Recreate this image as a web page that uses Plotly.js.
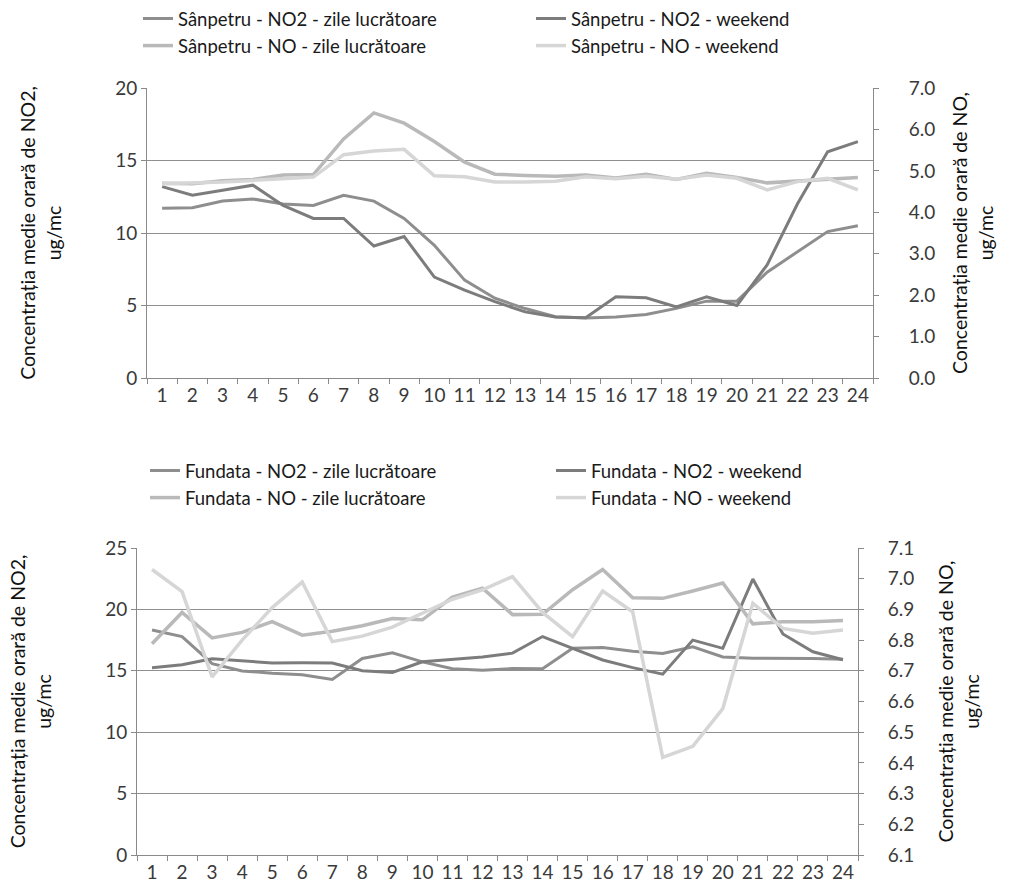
<!DOCTYPE html>
<html>
<head>
<meta charset="utf-8">
<script src="https://cdn.plot.ly/plotly-3.0.1.min.js"></script>
<style>
html,body{margin:0;padding:0;background:#ffffff;}
#chart{width:1009px;height:895px;}
</style>
</head>
<body>
<div id="chart"></div>
<script>
// Hours of the day (categories)
const hours = ["1","2","3","4","5","6","7","8","9","10","11","12","13","14","15","16","17","18","19","20","21","22","23","24"];

// Sânpetru (left axis NO2, right axis NO)
const sanNO2Zile    = [11.7,11.75,12.2,12.35,12.0,11.9,12.6,12.2,11.0,9.15,6.75,5.5,4.79,4.23,4.14,4.2,4.38,4.8,5.3,5.3,7.3,8.7,10.1,10.5];
const sanNO2Weekend = [13.2,12.6,12.95,13.3,11.9,11.0,11.0,9.1,9.76,6.96,6.06,5.27,4.56,4.2,4.15,5.6,5.53,4.9,5.6,5.0,7.8,12.0,15.6,16.3];
const sanNOZile     = [4.70,4.69,4.76,4.79,4.90,4.91,5.77,6.40,6.15,5.71,5.21,4.92,4.89,4.87,4.90,4.83,4.92,4.79,4.94,4.84,4.71,4.75,4.79,4.84];
const sanNOWeekend  = [4.69,4.70,4.73,4.77,4.82,4.85,5.39,5.48,5.52,4.88,4.86,4.73,4.73,4.75,4.86,4.81,4.87,4.80,4.90,4.82,4.54,4.74,4.82,4.54];

// Fundata (left axis NO2, right axis NO)
const funNO2Zile    = [18.32,17.79,15.58,14.99,14.8,14.68,14.3,16.0,16.46,15.73,15.17,15.05,15.18,15.17,16.83,16.9,16.6,16.41,16.95,16.13,16.02,16.04,16.0,15.95];
const funNO2Weekend = [15.24,15.49,15.98,15.83,15.64,15.66,15.63,15.0,14.86,15.73,15.95,16.12,16.44,17.79,16.83,15.88,15.26,14.73,17.5,16.83,22.47,18.0,16.55,15.9];
const funNOZile     = [6.788,6.89,6.807,6.825,6.86,6.816,6.829,6.847,6.87,6.866,6.94,6.969,6.883,6.884,6.964,7.03,6.938,6.936,6.96,6.986,6.853,6.86,6.86,6.864];
const funNOWeekend  = [7.03,6.958,6.68,6.80,6.906,6.989,6.795,6.813,6.842,6.888,6.933,6.964,7.007,6.89,6.811,6.96,6.892,6.418,6.454,6.577,6.92,6.838,6.822,6.833];

// Series names
const namesSan = ["Sânpetru - NO2 - zile lucrătoare","Sânpetru - NO2 - weekend","Sânpetru - NO - zile lucrătoare","Sânpetru - NO - weekend"];
const namesFun = ["Fundata - NO2 - zile lucrătoare","Fundata - NO2 - weekend","Fundata - NO - zile lucrătoare","Fundata - NO - weekend"];
const leftTitle = "Concentrația medie orară de NO2,<br>ug/mc";
const rightTitle = "Concentrația medie orară de NO,<br>ug/mc";

const colNO2Zile = "#8e8e8e", colNO2Week = "#7c7c7c", colNOZile = "#b9b9b9", colNOWeek = "#d6d6d6";
const FONT = "Lato, 'Open Sans', sans-serif";

function tr(y, name, color, width, xa, ya, lg) {
  return {x: hours, y: y, name: name, type: "scatter", mode: "lines",
          line: {color: color, width: width}, xaxis: xa, yaxis: ya, legend: lg};
}

const data = [
  tr(sanNO2Zile, namesSan[0], colNO2Zile, 3, "x", "y", "legend"),
  tr(sanNO2Weekend, namesSan[1], colNO2Week, 3, "x", "y", "legend"),
  tr(sanNOZile, namesSan[2], colNOZile, 3.5, "x", "y2", "legend"),
  tr(sanNOWeekend, namesSan[3], colNOWeek, 3.5, "x", "y2", "legend"),
  tr(funNO2Zile, namesFun[0], colNO2Zile, 3, "x2", "y3", "legend2"),
  tr(funNO2Weekend, namesFun[1], colNO2Week, 3, "x2", "y3", "legend2"),
  tr(funNOZile, namesFun[2], colNOZile, 3.5, "x2", "y4", "legend2"),
  tr(funNOWeekend, namesFun[3], colNOWeek, 3.5, "x2", "y4", "legend2")
];

const tickFont = {family: FONT, size: 19, color: "#3a3a3a"};
const titleFont = {family: FONT, size: 19.5, color: "#111111"};
const axisLine = "#8a8a8a";

function xAxis(domain, anchor) {
  return {domain: domain, anchor: anchor, type: "category", range: [-0.5, 23.5],
          tickson: "boundaries", ticks: "outside", ticklen: 5, tickcolor: axisLine,
          showline: true, linecolor: axisLine, linewidth: 1, showgrid: false, zeroline: false,
          tickangle: 0, tickfont: tickFont, fixedrange: true};
}
function yLeft(domain, anchor, range) {
  return {domain: domain, anchor: anchor, range: range, dtick: 5, tick0: 0,
          showgrid: true, gridcolor: "#8f8f8f", gridwidth: 1, zeroline: false,
          showline: true, linecolor: axisLine, ticks: "outside", ticklen: 5, tickcolor: axisLine,
          tickfont: tickFont,
          title: {text: leftTitle, font: titleFont, standoff: 48}};
}
function yRight(over, anchor, range, dtick, tick0, labelGap, standoff) {
  return {overlaying: over, anchor: anchor, side: "right", range: range, dtick: dtick, tick0: tick0,
          tickformat: ".1f", showgrid: false, zeroline: false,
          showline: true, linecolor: axisLine, ticks: "outside", ticklen: 5, tickcolor: axisLine,
          ticklabelstandoff: labelGap,
          tickfont: tickFont,
          title: {text: rightTitle, font: titleFont, standoff: standoff}};
}

const legendBase = {orientation: "h", xanchor: "left", yanchor: "top",
  itemwidth: 30, bgcolor: "rgba(0,0,0,0)", font: {family: FONT, size: 18.5, color: "#1a1a1a"},
  tracegroupgap: 0, itemclick: false, itemdoubleclick: false};

const layout = {
  width: 1009, height: 895,
  margin: {l: 0, r: 0, t: 0, b: 0},
  paper_bgcolor: "#ffffff", plot_bgcolor: "#ffffff",
  showlegend: true,
  font: {family: FONT},
  xaxis: xAxis([147/1009, 873/1009], "y"),
  yaxis: yLeft([1-378/895, 1-88/895], "x", [0, 20]),
  yaxis2: yRight("y", "x", [0, 7], 1, 0, 26, 19),
  xaxis2: xAxis([137/1009, 858/1009], "y3"),
  yaxis3: yLeft([1-855/895, 1-548/895], "x2", [0, 25]),
  yaxis4: yRight("y3", "x2", [6.1, 7.1], 0.1, 6.1, 20, 26),
  legend: Object.assign({}, legendBase, {x: 138/1009, y: 1, entrywidth: 348}),
  legend2: Object.assign({}, legendBase, {x: 145/1009, y: 1 - 452/895, entrywidth: 361})
};

Plotly.newPlot("chart", data, layout, {displayModeBar: false, staticPlot: true});
</script>
</body>
</html>
